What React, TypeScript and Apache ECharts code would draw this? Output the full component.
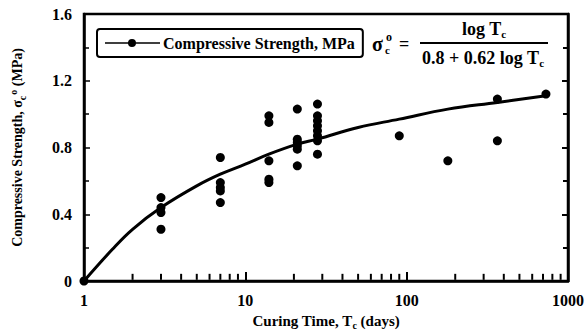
import React, { useEffect, useRef } from "react";
import * as echarts from "echarts";

// Measured specimens: curing time (days) and compressive strength (MPa)
const sampleDays = [1, 3, 3, 3, 3, 7, 7, 7, 7, 7, 14, 14, 14, 14, 14, 21, 21, 21, 21, 21, 21, 28, 28, 28, 28, 28, 28, 28, 28, 90, 180, 365, 365, 730];
const sampleStrength = [0, 0.5, 0.44, 0.41, 0.31, 0.74, 0.59, 0.56, 0.54, 0.47, 0.99, 0.95, 0.72, 0.61, 0.59, 1.03, 0.85, 0.83, 0.81, 0.79, 0.69, 1.06, 0.99, 0.96, 0.93, 0.9, 0.87, 0.84, 0.76, 0.87, 0.72, 1.09, 0.84, 1.12];

// Fitted curve
const curveDays = [1, 1.5, 2, 3, 5, 7, 10, 14, 21, 28, 50, 90, 180, 365, 730];
const curveStrength = [0, 0.19, 0.31, 0.44, 0.57, 0.64, 0.7, 0.76, 0.82, 0.85, 0.92, 0.97, 1.03, 1.07, 1.11];

// Minor log ticks on the time axis
const xMinorTicks = [2, 3, 4, 5, 6, 7, 8, 9, 20, 30, 40, 50, 60, 70, 80, 90, 200, 300, 400, 500, 600, 700, 800, 900];

const seriesName = "Compressive Strength, MPa";
const FONT = "'Liberation Serif', 'Times New Roman', 'DejaVu Serif', serif";

const subRich = {
  s: { fontSize: 10, fontFamily: FONT, fontWeight: "bold", padding: [9, 0, 0, 0], color: "#000" },
  p: { fontSize: 10, fontFamily: FONT, fontWeight: "bold", padding: [0, 0, 9, 1], color: "#000" },
};
const eqRich = {
  s: { fontSize: 11, fontFamily: FONT, fontWeight: "bold", padding: [10, 0, 0, 0], color: "#000" },
};

export default function App() {
  const ref = useRef<HTMLDivElement>(null);
  useEffect(() => {
    if (!ref.current) return;
    const chart = echarts.init(ref.current, null, { renderer: "svg" });
    const labelFont = { fontFamily: FONT, fontWeight: "bold" as const, fontSize: 16, color: "#000" };
    const eqText = (x: number, y: number, text: string, size: number, align = "left") => ({
      type: "text",
      x,
      y,
      style: { text, rich: eqRich, fontFamily: FONT, fontWeight: "bold", fontSize: size, fill: "#000", align, verticalAlign: "middle" },
    });
    chart.setOption({
      animation: false,
      backgroundColor: "#fff",
      textStyle: { fontFamily: FONT },
      grid: { left: 82, right: 19, top: 14, bottom: 52, show: true, borderColor: "#000", borderWidth: 2.5 },
      legend: {
        data: [
          {
            name: seriesName,
            icon: "path://M0,4.2 H55 V5.8 H0 Z M31,5 A4,4 0 1,1 23,5 A4,4 0 1,1 31,5 Z",
          },
        ],
        left: 97,
        top: 29,
        itemWidth: 55,
        itemHeight: 10,
        itemGap: 4,
        padding: [6, 8, 6, 8],
        borderColor: "#000",
        borderWidth: 2,
        borderRadius: 3,
        selectedMode: false,
        textStyle: { fontFamily: FONT, fontWeight: "bold", fontSize: 16, color: "#000", padding: [0, 0, 0, -2] },
      },
      xAxis: {
        type: "log",
        logBase: 10,
        min: 1,
        max: 1000,
        name: "Curing Time, T{s|c} (days)",
        nameLocation: "middle",
        nameGap: 30,
        nameTextStyle: { ...labelFont, fontSize: 15, rich: subRich },
        axisLine: { show: true, lineStyle: { color: "#000", width: 2.5 } },
        axisTick: { show: true, inside: true, length: 9, lineStyle: { color: "#000", width: 2 } },
        minorTick: { show: false },
        axisLabel: { ...labelFont, margin: 11, formatter: (v: number) => String(Math.round(v)) },
        splitLine: { show: false },
      },
      yAxis: [
        {
          type: "value",
          min: 0,
          max: 1.6,
          interval: 0.4,
          name: "Compressive Strength, σ{s|c}{p|o} (MPa)",
          nameLocation: "middle",
          nameGap: 57,
          nameTextStyle: { ...labelFont, fontSize: 14, rich: subRich },
          axisLine: { show: true, lineStyle: { color: "#000", width: 2.5 } },
          axisTick: { show: true, inside: true, length: 6, lineStyle: { color: "#000", width: 1.5 } },
          minorTick: { show: true, splitNumber: 2, length: 5, lineStyle: { color: "#000", width: 1.5 } },
          axisLabel: { ...labelFont, margin: 12, formatter: (v: number) => (v === 0 ? "0" : v.toFixed(1)) },
          splitLine: { show: false },
        },
        {
          type: "value",
          position: "right",
          min: 0,
          max: 1.6,
          interval: 0.4,
          axisLine: { show: true, lineStyle: { color: "#000", width: 2.5 } },
          axisTick: { show: true, inside: true, length: 6, lineStyle: { color: "#000", width: 2 } },
          minorTick: { show: true, splitNumber: 2, length: 5, lineStyle: { color: "#000", width: 2 } },
          axisLabel: { show: false },
          splitLine: { show: false },
        },
      ],
      series: [
        {
          name: seriesName,
          type: "line",
          data: curveDays.map((d, i) => [d, curveStrength[i]]),
          smooth: 0.4,
          showSymbol: false,
          symbol: "circle",
          lineStyle: { color: "#000", width: 3 },
          itemStyle: { color: "#000" },
          z: 3,
        },
        {
          name: "Measured",
          type: "scatter",
          data: sampleDays.map((d, i) => [d, sampleStrength[i]]),
          symbol: "circle",
          symbolSize: 9,
          itemStyle: { color: "#000", opacity: 1 },
          z: 4,
        },
        {
          name: "minor ticks",
          type: "scatter",
          silent: true,
          clip: false,
          data: xMinorTicks.map((v) => [v, 0.025]),
          symbol: "rect",
          symbolSize: [2, 6],
          itemStyle: { color: "#000", opacity: 1 },
          z: 6,
        },
      ],
      graphic: [
        eqText(372, 44, "σ", 20),
        eqText(385, 50, "c", 11),
        eqText(386, 37, "o", 12),
        eqText(399, 44, "=", 18),
        {
          type: "line",
          shape: { x1: 420, y1: 43, x2: 548, y2: 43 },
          style: { stroke: "#000", lineWidth: 2 },
        },
        eqText(484, 29, "log T{s|c}", 18, "center"),
        eqText(483, 58, "0.8 + 0.62 log T{s|c}", 18, "center"),
      ],
    });
    return () => chart.dispose();
  }, []);
  return <div ref={ref} style={{ position: "fixed", left: 0, top: 0, width: 587, height: 335 }} />;
}
